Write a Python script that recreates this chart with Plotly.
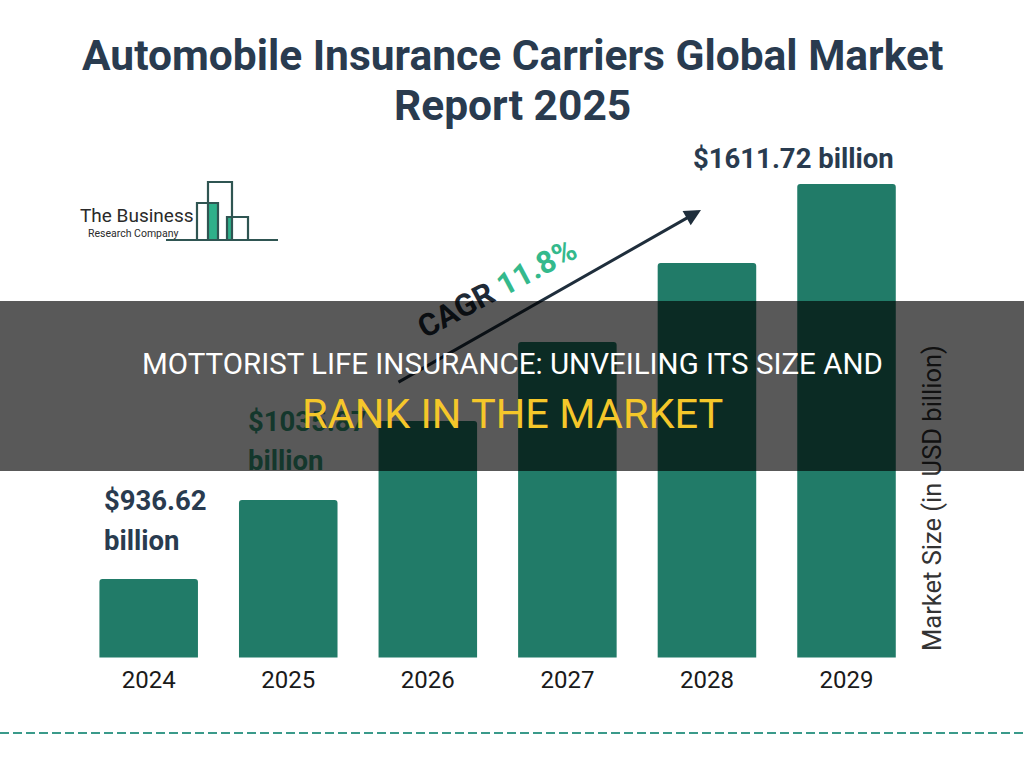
import plotly.graph_objects as go

# ---------------- data ----------------
years = ["2024", "2025", "2026", "2027", "2028", "2029"]
market_size = [936.62, 1071.6, 1206.7, 1341.7, 1476.7, 1611.72]   # bar heights
label_years = ["2024", "2025", "2029"]
label_texts = [["$936.62", "billion"], ["$1035.87", "billion"], ["$1611.72 billion"]]
cagr_label = "CAGR"
cagr_value = "11.8%"
title_lines = ["Automobile Insurance Carriers Global Market", "Report 2025"]
y_title = "Market Size (in USD billion)"
banner_line1 = "MOTTORIST LIFE INSURANCE: UNVEILING ITS SIZE AND"
banner_line2 = "RANK IN THE MARKET"

W, H = 1024, 768
BAR = "#217b68"
DARK = "#293b4f"
GREEN = "#34b98c"


def px(x):
    return x / W


def py(y):
    return 1 - y / H


fig = go.Figure()
fig.add_trace(go.Bar(
    x=years, y=market_size, marker=dict(color=BAR, cornerradius=3, line=dict(width=0)),
    hoverinfo="skip", showlegend=False,
))

ann = []
# value labels (drawn before overlay)
label_style = {
    "2024": dict(xanchor="left", xshift=-47, shifts=[79, 39], color=DARK),
    "2025": dict(xanchor="left", xshift=-42, shifts=[79, 40], color="#3a9e7e"),
    "2029": dict(xanchor="right", xshift=49, shifts=[26], color=DARK),
}
for yr, lines in zip(label_years, label_texts):
    st = label_style[yr]
    i = years.index(yr)
    val = market_size[i]
    for line, sh in zip(lines, st["shifts"]):
        ann.append(dict(x=i, y=val, xref="x", yref="y", text=line, showarrow=False,
                        xanchor=st["xanchor"], yanchor="middle", xshift=st["xshift"], yshift=sh,
                        font=dict(family="Roboto", size=27.5, color=st["color"], weight="bold")))

# title
for line, yc in zip(title_lines, [55, 105]):
    ann.append(dict(x=0.5, y=py(yc), xref="paper", yref="paper", showarrow=False,
                    text=line, xanchor="center", yanchor="middle",
                    font=dict(family="Roboto", size=42.5, color=DARK, weight="bold")))

# logo text
ann.append(dict(x=px(78), y=py(215), xref="paper", yref="paper", showarrow=False,
                text="The Business", xanchor="left", yanchor="middle",
                font=dict(family="Roboto", size=19, color="#2a2a2a")))
ann.append(dict(x=px(86), y=py(233), xref="paper", yref="paper", showarrow=False,
                text="Research Company", xanchor="left", yanchor="middle",
                font=dict(family="Roboto", size=10.5, color="#2a2a2a")))

# CAGR arrow and text
ann.append(dict(x=px(701), y=py(210), xref="paper", yref="paper", ax=-304, ay=173,
                axref="pixel", ayref="pixel", text="", showarrow=True,
                arrowhead=2, arrowsize=1.1, arrowwidth=3, arrowcolor="#1f2e3c"))
ann.append(dict(x=px(497), y=py(289), xref="paper", yref="paper", showarrow=False,
                text=f"{cagr_label} <span style='color:{GREEN}'>{cagr_value}</span>",
                textangle=-28, xanchor="center", yanchor="middle",
                font=dict(family="Roboto", size=31, color="#1f2a36", weight="bold")))

# y-axis title on the right
ann.append(dict(x=px(932), y=py(498), xref="paper", yref="paper", showarrow=False,
                text=y_title, textangle=-90, xanchor="center", yanchor="middle",
                font=dict(family="Roboto", size=25.5, color="#333333")))

# dark banner overlay
ann.append(dict(x=0.5, y=py(386), xref="paper", yref="paper", showarrow=False,
                text=" ", width=1040, height=170, bgcolor="rgba(0,0,0,0.65)",
                borderpad=0, borderwidth=0, xanchor="center", yanchor="middle",
                font=dict(size=10)))
ann.append(dict(x=0.5, y=py(364), xref="paper", yref="paper", showarrow=False,
                text=banner_line1, xanchor="center", yanchor="middle",
                font=dict(family="Roboto", size=29.5, color="#ffffff")))
ann.append(dict(x=0.5, y=py(413), xref="paper", yref="paper", showarrow=False,
                text=banner_line2, xanchor="center", yanchor="middle",
                font=dict(family="Roboto", size=41.5, color="#f5c72a")))

# logo graphic
shapes = []
LOGO_LINE = "#2f5552"
LOGO_FILL = "#2fb08a"
for x0, x1, y0, y1 in [(208, 218, 203, 240), (227, 232, 217, 240)]:
    shapes.append(dict(type="rect", xref="paper", yref="paper", x0=px(x0), x1=px(x1),
                       y0=py(y1), y1=py(y0), fillcolor=LOGO_FILL, line=dict(width=0)))


def path(points):
    return "M" + " L".join(f"{px(a):.5f},{py(b):.5f}" for a, b in points)


for pts in [[(197, 240), (197, 203), (218, 203), (218, 240)],
            [(208, 240), (208, 182), (232, 182), (232, 240)],
            [(227, 240), (227, 217), (248, 217), (248, 240)],
            [(166, 240), (278, 240)]]:
    shapes.append(dict(type="path", xref="paper", yref="paper", path=path(pts),
                       line=dict(color=LOGO_LINE, width=2.2)))

# bottom dashed rule
shapes.append(dict(type="line", xref="paper", yref="paper", x0=0, x1=1, y0=py(733), y1=py(733),
                   line=dict(color="#3a9a8a", width=2, dash="9px,4px")))

fig.update_layout(
    width=W, height=H, margin=dict(l=0, r=0, t=0, b=0),
    paper_bgcolor="white", plot_bgcolor="white",
    bargap=0.294,
    xaxis=dict(type="category", domain=[px(78.9), px(916.3)], range=[-0.5, 5.5], showgrid=False,
               showline=False, zeroline=False, ticks="", ticklabelstandoff=5,
               tickfont=dict(family="Roboto", size=24, color="#1a1a1a")),
    yaxis=dict(domain=[py(657.5), py(184)], range=[802.45, 1611.72], visible=False),
    annotations=ann, shapes=shapes, showlegend=False,
)

fig.write_html("out.html", config={"displayModeBar": False},
               post_script="document.body.style.margin='0';document.body.style.overflow='hidden';")
